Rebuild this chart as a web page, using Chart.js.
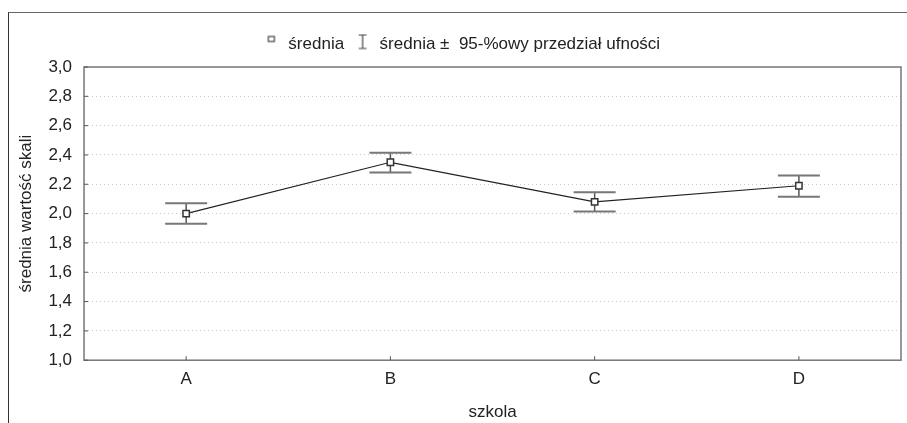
<!DOCTYPE html>
<html>
<head>
<meta charset="utf-8">
<script src="https://cdn.jsdelivr.net/npm/chart.js@4.4.1/dist/chart.umd.min.js"></script>
<style>
  html, body { margin: 0; padding: 0; background: #fff; }
  #wrap { position: relative; width: 907px; height: 423px; }
  #frame { position: absolute; left: 8px; top: 12px; right: -2px; bottom: -2px; border-top: 1.5px solid #666; border-left: 1.5px solid #333; }
  canvas { position: absolute; left: 0; top: 0; }
</style>
</head>
<body>
<div id="wrap">
  <div id="frame"></div>
  <canvas id="chart" width="907" height="423"></canvas>
</div>
<script>
const schools = ["A", "B", "C", "D"];
const means = [2.0, 2.35, 2.08, 2.19];
const lower = [1.93, 2.28, 2.015, 2.115];
const upper = [2.07, 2.415, 2.145, 2.26];
const legendLabels = ["średnia", "średnia ±  95-%owy przedział ufności"];

const FONT = "'Liberation Sans', Arial, sans-serif";

// small icons for the legend
function meanIcon() {
  const c = document.createElement("canvas");
  c.width = 10; c.height = 22;
  const g = c.getContext("2d");
  g.fillStyle = "#fff";
  g.strokeStyle = "#444";
  g.lineWidth = 1.2;
  g.fillRect(2, 3, 6, 5);
  g.strokeRect(2, 3, 6, 5);
  return c;
}
function barIcon() {
  const c = document.createElement("canvas");
  c.width = 10; c.height = 22;
  const g = c.getContext("2d");
  g.strokeStyle = "#444";
  g.lineWidth = 1.2;
  g.beginPath();
  g.moveTo(1, 1.5); g.lineTo(9, 1.5);
  g.moveTo(5, 1.5); g.lineTo(5, 15);
  g.moveTo(1, 15); g.lineTo(9, 15);
  g.stroke();
  return c;
}

const errorBars = {
  id: "errorBars",
  beforeInit(chart) {
    // a bit more room under the legend
    const fit = chart.legend.fit;
    chart.legend.fit = function () {
      fit.bind(chart.legend)();
      this.height += 4;
    };
  },
  beforeDatasetsDraw(chart) {
    const { ctx, scales } = chart;
    ctx.save();
    for (let i = 0; i < schools.length; i++) {
      const x = scales.x.getPixelForValue(i);
      const yl = scales.y.getPixelForValue(lower[i]);
      const yu = scales.y.getPixelForValue(upper[i]);
      ctx.strokeStyle = "#555";
      ctx.lineWidth = 1.5;
      ctx.beginPath();
      ctx.moveTo(x, yl); ctx.lineTo(x, yu);
      ctx.stroke();
      ctx.strokeStyle = "#777";
      ctx.lineWidth = 2;
      ctx.beginPath();
      ctx.moveTo(x - 21, yu); ctx.lineTo(x + 21, yu);
      ctx.moveTo(x - 21, yl); ctx.lineTo(x + 21, yl);
      ctx.stroke();
    }
    ctx.restore();
  },
  afterDraw(chart) {
    const { ctx, chartArea: a, scales } = chart;
    ctx.save();
    ctx.strokeStyle = "#777";
    ctx.lineWidth = 1.5;
    ctx.strokeRect(a.left, a.top, a.right - a.left, a.bottom - a.top);
    // inner tick marks
    ctx.strokeStyle = "#555";
    ctx.lineWidth = 1;
    ctx.beginPath();
    scales.y.ticks.forEach((t, i) => {
      const y = scales.y.getPixelForTick(i);
      ctx.moveTo(a.left, y); ctx.lineTo(a.left + 4, y);
    });
    scales.x.ticks.forEach((t, i) => {
      const x = scales.x.getPixelForTick(i);
      ctx.moveTo(x, a.bottom); ctx.lineTo(x, a.bottom - 4);
    });
    ctx.stroke();
    ctx.restore();
  }
};

const chart = new Chart(document.getElementById("chart"), {
  type: "line",
  data: {
    labels: schools,
    datasets: [{
      label: legendLabels[0],
      data: means,
      borderColor: "#222",
      borderWidth: 1.2,
      pointStyle: "rect",
      pointRadius: 4.5,
      pointBackgroundColor: "#fff",
      pointBorderColor: "#333",
      pointBorderWidth: 1.5,
      tension: 0,
    }],
  },
  options: {
    responsive: false,
    animation: false,
    layout: { padding: { left: 12, right: -4, top: 26, bottom: 0 } },
    plugins: {
      tooltip: { enabled: false },
      legend: {
        position: "top",
        labels: {
          usePointStyle: true,
          color: "#222",
          padding: 10,
          font: { family: FONT, size: 17 },
          generateLabels: () => [
            { text: legendLabels[0], pointStyle: meanIcon(), fontColor: "#222", lineWidth: 0 },
            { text: legendLabels[1], pointStyle: barIcon(), fontColor: "#222", lineWidth: 0 },
          ],
        },
      },
    },
    scales: {
      x: {
        offset: true,
        grid: { display: false, drawTicks: false },
        border: { display: false },
        ticks: { color: "#222", padding: 9, font: { family: FONT, size: 17 } },
        title: {
          display: true,
          text: "szkola",
          color: "#222",
          padding: { top: 4, bottom: 0 },
          font: { family: FONT, size: 17 },
        },
      },
      y: {
        min: 1,
        max: 3,
        grid: { color: "#c8c8c8", drawTicks: false, lineWidth: 1 },
        border: { display: false, dash: [1, 3] },
        ticks: {
          stepSize: 0.2,
          color: "#222",
          padding: 12,
          font: { family: FONT, size: 17 },
          callback: (v) => v.toFixed(1).replace(".", ","),
        },
        title: {
          display: true,
          text: "średnia wartość skali",
          color: "#222",
          padding: { top: 4, bottom: 0 },
          font: { family: FONT, size: 17 },
        },
      },
    },
  },
  plugins: [errorBars],
});
</script>
</body>
</html>
